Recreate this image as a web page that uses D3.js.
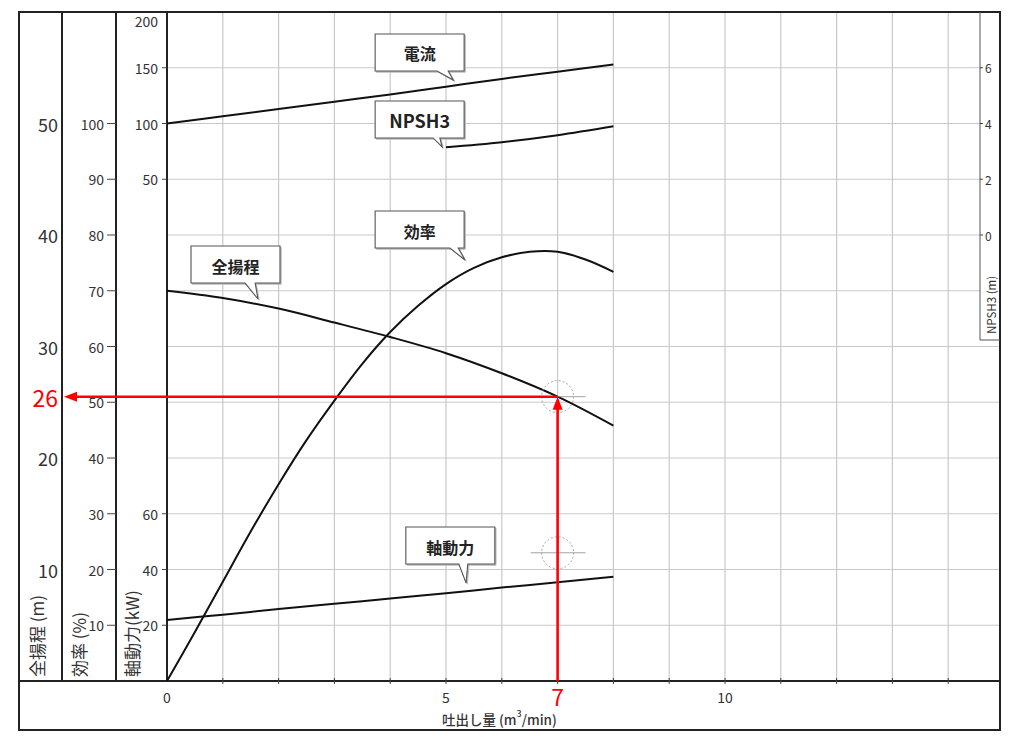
<!DOCTYPE html>
<html>
<head>
<meta charset="utf-8">
<script src="https://cdn.jsdelivr.net/npm/d3@7"></script>
<style>
  body { margin: 0; background: #fff; }
  text { font-family: "Noto Sans CJK JP", "Noto Sans", sans-serif; }
</style>
</head>
<body>
<div id="chart"></div>
<script>
/* DATA */
// discharge flow (m3/min) for the straight-ish curves
const flow = [0, 1, 2, 3, 4, 5, 6, 7, 8];
const headValues = [35, 34.35, 33.4, 32.15, 30.85, 29.4, 27.6, 25.5, 22.9];   // 全揚程 (m)
const currentValues = [100, 106.5, 113, 119.5, 126, 133, 140, 146.5, 153];    // 電流
const powerValues = [21.9, 23.8, 25.8, 27.7, 29.6, 31.5, 33.5, 35.4, 37.4];   // 軸動力 (kW)

const effFlow = [0, 0.5, 1, 1.5, 2, 2.5, 3, 3.5, 4, 4.5, 5, 5.5, 6, 6.5, 7, 7.5, 8];
const effValues = [0, 8.8, 17.8, 26.8, 35.3, 43.2, 50.3, 56.9, 62.6, 67.3, 71.2, 74.1, 76.0, 77.0, 77.0, 75.6, 73.4]; // 効率 (%)

const npshFlow = [5, 6, 7, 8];
const npshValues = [3.15, 3.33, 3.58, 3.9];   // NPSH3 (m)

// tick labels
const flowTicks = [0, 5, 10];
const headTicks = [10, 20, 30, 40, 50];
const effTicks = [10, 20, 30, 40, 50, 60, 70, 80, 90, 100];
const powerTicks = [20, 40, 60];
const currentTicks = [50, 100, 150, 200];
const npshTicks = [0, 2, 4, 6];

// reading of the duty point
const dutyFlow = 7;
const dutyHead = 25.5;
const dutyFlowLabel = "7";
const dutyHeadLabel = "26";
const markerHeads = [25.5, 11.5];

/* LAYOUT */
const W = 1024, H = 740;
const frame = { left: 19, top: 12, right: 1000, bottom: 730 };
const plotBottom = 681;
const col1 = 62, col2 = 116, col3 = 167;   // vertical dividers of the axis columns
const npshX = 980;

const svg = d3.select("#chart").append("svg")
  .attr("width", W)
  .attr("height", H);

/* SCALES */
const xScale = d3.scaleLinear().domain([0, 10]).range([col3, 725]);
const yHead = d3.scaleLinear().domain([0, 60]).range([plotBottom, frame.top]);
const yEff = d3.scaleLinear().domain([0, 120]).range([plotBottom, frame.top]);
const yPower = d3.scaleLinear().domain([0, 240]).range([plotBottom, frame.top]);
const yCurrent = d3.scaleLinear().domain([0, 200]).range([yHead(40), frame.top]);
const yNpsh = d3.scaleLinear().domain([0, 8]).range([yHead(40), frame.top]);

/* GRID */
const gridColor = "#c9c9c9";
const xMax = xScale.invert(frame.right);
const grid = svg.append("g");
grid.selectAll(".vgrid")
  .data(d3.range(1, Math.floor(xMax) + 1))
  .join("line")
  .attr("x1", d => xScale(d)).attr("x2", d => xScale(d))
  .attr("y1", frame.top).attr("y2", plotBottom)
  .attr("stroke", gridColor).attr("stroke-width", 1.2);

grid.selectAll(".hgrid")
  .data(d3.range(5, 60, 5))
  .join("line")
  .attr("x1", col3)
  .attr("x2", d => yHead(d) < 340 ? npshX : frame.right)
  .attr("y1", d => yHead(d)).attr("y2", d => yHead(d))
  .attr("stroke", gridColor).attr("stroke-width", 1.2);

/* FRAME */
const frameG = svg.append("g").attr("stroke", "#222").attr("stroke-width", 2).attr("fill", "none");
frameG.append("rect")
  .attr("x", frame.left).attr("y", frame.top)
  .attr("width", frame.right - frame.left).attr("height", frame.bottom - frame.top);
frameG.append("line").attr("x1", frame.left).attr("x2", frame.right)
  .attr("y1", plotBottom).attr("y2", plotBottom);
[col1, col2, col3].forEach(cx => {
  frameG.append("line").attr("x1", cx).attr("x2", cx)
    .attr("y1", frame.top).attr("y2", plotBottom);
});

// NPSH axis on the right
svg.append("path")
  .attr("d", `M${npshX},${frame.top}V340H${frame.right}`)
  .attr("fill", "none").attr("stroke", "#555").attr("stroke-width", 1);

/* AXES */
const tickColor = "#333";

// x axis
const xAxis = svg.append("g");
xAxis.selectAll(".xt")
  .data(d3.range(1, Math.floor(xMax) + 1))
  .join("line")
  .attr("x1", d => xScale(d)).attr("x2", d => xScale(d))
  .attr("y1", plotBottom - 3).attr("y2", plotBottom + 3)
  .attr("stroke", "#444").attr("stroke-width", 1);
xAxis.selectAll(".xl")
  .data(flowTicks)
  .join("text")
  .attr("x", d => xScale(d)).attr("y", 697)
  .attr("text-anchor", "middle").attr("dominant-baseline", "central")
  .attr("font-size", 14).attr("fill", tickColor)
  .text(d => d);
const xTitle = xAxis.append("text")
  .attr("x", 442).attr("y", 719)
  .attr("dominant-baseline", "central")
  .attr("font-size", 13.5).attr("font-weight", 500).attr("fill", "#333");
xTitle.append("tspan").text("吐出し量 (m");
xTitle.append("tspan").attr("font-size", 9).attr("dy", -6).text("3");
xTitle.append("tspan").attr("dy", 6).text("/min)");

// 全揚程 axis (labels only)
svg.append("g").selectAll("text")
  .data(headTicks)
  .join("text")
  .attr("x", 58).attr("y", d => yHead(d))
  .attr("text-anchor", "end").attr("dominant-baseline", "central")
  .attr("font-size", 18).attr("fill", tickColor)
  .text(d => d);

// 効率 axis
const effG = svg.append("g");
effG.selectAll("line")
  .data(effTicks)
  .join("line")
  .attr("x1", col2 - 9).attr("x2", col2)
  .attr("y1", d => yEff(d)).attr("y2", d => yEff(d))
  .attr("stroke", "#444").attr("stroke-width", 1);
effG.selectAll("text")
  .data(effTicks)
  .join("text")
  .attr("x", col2 - 12).attr("y", d => yEff(d))
  .attr("text-anchor", "end").attr("dominant-baseline", "central")
  .attr("font-size", 14).attr("fill", tickColor)
  .text(d => d);

// 軸動力 axis
const powG = svg.append("g");
powG.selectAll("line")
  .data(powerTicks)
  .join("line")
  .attr("x1", col3 - 5).attr("x2", col3)
  .attr("y1", d => yPower(d)).attr("y2", d => yPower(d))
  .attr("stroke", "#444").attr("stroke-width", 1);
powG.selectAll("text")
  .data(powerTicks)
  .join("text")
  .attr("x", col3 - 9).attr("y", d => yPower(d))
  .attr("text-anchor", "end").attr("dominant-baseline", "central")
  .attr("font-size", 14).attr("fill", tickColor)
  .text(d => d);

// 電流 axis
const curG = svg.append("g");
curG.selectAll("line")
  .data(currentTicks.filter(d => d < 200))
  .join("line")
  .attr("x1", col3 - 5).attr("x2", col3)
  .attr("y1", d => yCurrent(d)).attr("y2", d => yCurrent(d))
  .attr("stroke", "#444").attr("stroke-width", 1);
curG.selectAll("text")
  .data(currentTicks)
  .join("text")
  .attr("x", col3 - 9).attr("y", d => Math.max(yCurrent(d), frame.top + 9))
  .attr("text-anchor", "end").attr("dominant-baseline", "central")
  .attr("font-size", 14).attr("fill", tickColor)
  .text(d => d);

// NPSH3 axis
const npG = svg.append("g");
npG.selectAll("line")
  .data(npshTicks)
  .join("line")
  .attr("x1", npshX).attr("x2", npshX + 3)
  .attr("y1", d => yNpsh(d)).attr("y2", d => yNpsh(d))
  .attr("stroke", "#444").attr("stroke-width", 1);
npG.selectAll("text")
  .data(npshTicks)
  .join("text")
  .attr("x", npshX + 5).attr("y", d => yNpsh(d))
  .attr("dominant-baseline", "central")
  .attr("font-size", 12).attr("fill", tickColor)
  .text(d => d);

// rotated axis titles
const titles = [
  { text: "全揚程 (m)", x: 36, y: 677, size: 17 },
  { text: "効率 (%)", x: 78, y: 677, size: 17 },
  { text: "軸動力(kW)", x: 131, y: 677, size: 17 },
  { text: "NPSH3 (m)", x: 991, y: 334, size: 11.5 }
];
svg.append("g").selectAll("text")
  .data(titles)
  .join("text")
  .attr("transform", d => `translate(${d.x},${d.y}) rotate(-90)`)
  .attr("dominant-baseline", "central")
  .attr("font-size", d => d.size).attr("fill", "#333")
  .text(d => d.text);

/* CURVES */
const curveG = svg.append("g")
  .attr("fill", "none").attr("stroke", "#111").attr("stroke-width", 2);

const lineOf = (xs, ys, yScale) => d3.line()
  .x((d, i) => xScale(xs[i]))
  .y(d => yScale(d))
  .curve(d3.curveCatmullRom.alpha(0.5))(ys);

curveG.append("path").attr("d", lineOf(flow, currentValues, yCurrent));
curveG.append("path").attr("d", lineOf(npshFlow, npshValues, yNpsh));
curveG.append("path").attr("d", lineOf(effFlow, effValues, yEff));
curveG.append("path").attr("d", lineOf(flow, headValues, yHead));
curveG.append("path").attr("d", lineOf(flow, powerValues, yPower));

/* TARGET MARKERS */
const markG = svg.append("g").attr("fill", "none").attr("stroke", "#999").attr("stroke-width", 0.9);
markerHeads.forEach(h => {
  const cx = xScale(dutyFlow), cy = yHead(h);
  markG.append("circle").attr("cx", cx).attr("cy", cy).attr("r", 16)
    .attr("stroke-dasharray", "2,2");
  markG.append("line").attr("x1", cx - 27).attr("x2", cx + 28).attr("y1", cy).attr("y2", cy);
});

/* CALLOUTS */
// box corner and pointer tip in chart units (flow, head)
const callouts = [
  { label: "電流", bx: 3.73, by: 58.03, tx: 5.13, ty: 53.9, b1: 4.84, b2: 5.04 },
  { label: "NPSH3", bx: 3.73, by: 52.02, tx: 4.93, ty: 47.9, b1: 4.77, b2: 4.89 },
  { label: "効率", bx: 3.73, by: 42.15, tx: 5.34, ty: 37.76, b1: 5.07, b2: 5.22 },
  { label: "全揚程", bx: 0.43, by: 39.01, tx: 1.63, ty: 34.26, b1: 1.40, b2: 1.58 },
  { label: "軸動力", bx: 4.28, by: 13.81, tx: 5.36, ty: 8.79, b1: 5.23, b2: 5.39 }
];
const boxW = 89, boxH = 37;
const calloutG = svg.append("g");
callouts.forEach(c => {
  const x0 = xScale(c.bx), y0 = yHead(c.by);
  const x1 = x0 + boxW, y1 = y0 + boxH;
  const d = `M${x0},${y0}H${x1}V${y1}H${xScale(c.b2)}L${xScale(c.tx)},${yHead(c.ty)}L${xScale(c.b1)},${y1}H${x0}Z`;
  calloutG.append("path").attr("d", d)
    .attr("transform", "translate(1.2,1.2)")
    .attr("fill", "#bbb").attr("stroke", "#bbb").attr("stroke-width", 1);
  calloutG.append("path").attr("d", d)
    .attr("fill", "#fff").attr("stroke", "#555").attr("stroke-width", 1.1);
  calloutG.append("text")
    .attr("x", x0 + boxW / 2).attr("y", y0 + boxH / 2 + 1)
    .attr("text-anchor", "middle").attr("dominant-baseline", "central")
    .attr("font-size", c.label === "NPSH3" ? 18 : 16)
    .attr("font-weight", 700).attr("fill", "#222")
    .text(c.label);
});

/* DUTY POINT READING (red) */
const red = "#ff0000";
const px = xScale(dutyFlow), py = yHead(dutyHead);
const redG = svg.append("g");
// vertical: from flow axis up to the curve
redG.append("line").attr("x1", px).attr("x2", px)
  .attr("y1", plotBottom).attr("y2", py + 10)
  .attr("stroke", red).attr("stroke-width", 2.6);
redG.append("path")
  .attr("d", `M${px},${py}L${px - 5},${py + 13}L${px + 5},${py + 13}Z`)
  .attr("fill", red);
// horizontal: from the curve to the head axis
const ax = col1 + 2;
redG.append("line").attr("x1", px).attr("x2", ax + 10)
  .attr("y1", py).attr("y2", py)
  .attr("stroke", red).attr("stroke-width", 2.6);
redG.append("path")
  .attr("d", `M${ax},${py}L${ax + 13},${py - 5}L${ax + 13},${py + 5}Z`)
  .attr("fill", red);

redG.append("text")
  .attr("x", 58).attr("y", py)
  .attr("text-anchor", "end").attr("dominant-baseline", "central")
  .attr("font-size", 23).attr("fill", red)
  .text(dutyHeadLabel);
redG.append("text")
  .attr("x", px).attr("y", 696)
  .attr("text-anchor", "middle").attr("dominant-baseline", "central")
  .attr("font-size", 23).attr("fill", red)
  .text(dutyFlowLabel);
</script>
</body>
</html>
